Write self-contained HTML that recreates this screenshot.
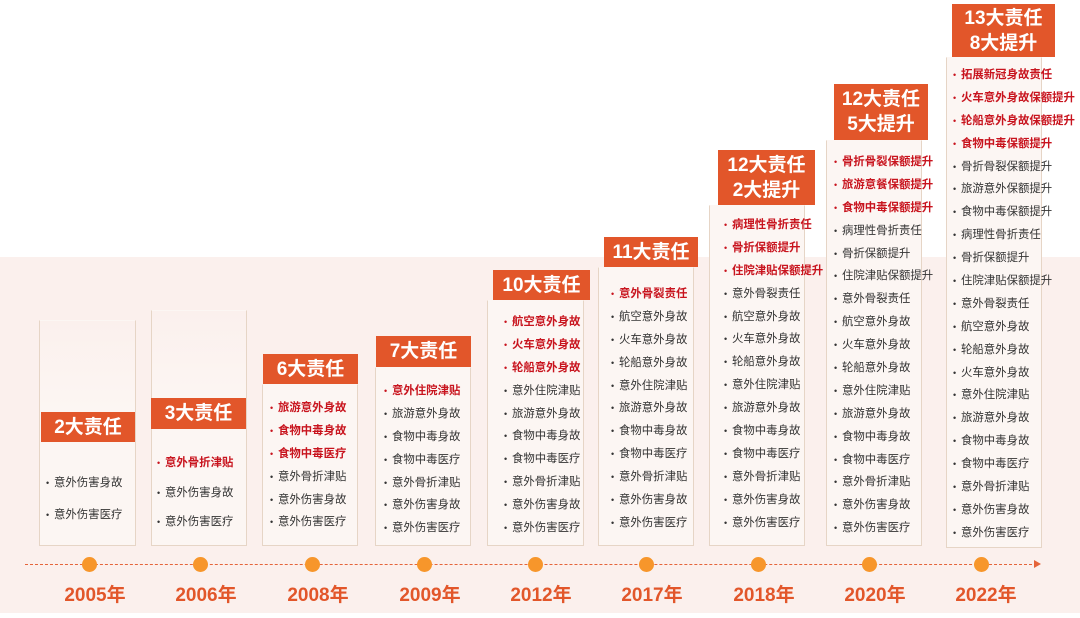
<!DOCTYPE html>
<html><head><meta charset="utf-8"><style>
*{margin:0;padding:0;box-sizing:border-box}
body{width:1080px;height:618px;position:relative;background:#fff;overflow:hidden;font-family:"Liberation Sans","Noto Sans CJK SC",sans-serif}
.band{position:absolute;left:0;top:257px;width:1080px;height:356px;background:#fbf0ed}
.box{position:absolute;border:1px solid #e6d5c6;border-top-color:transparent;background:#fcf6f3}
.hd{position:absolute;background:#e2562a;color:#fff;font-weight:bold;font-size:19px;text-align:center;line-height:25px;display:flex;flex-direction:column;justify-content:center}
.ls{position:absolute;font-size:11.4px;color:#333;white-space:nowrap}
.ls div{height:22.9px;line-height:16px}
.ls div:before{content:"•";display:inline-block;width:8px;font-size:9px;font-weight:normal}
.ls .r{color:#c8141e;font-weight:bold}
.line{position:absolute;left:25px;top:564px;width:1012px;border-top:1.5px dashed #e5643a}
.arr{position:absolute;left:1034px;top:560px;width:0;height:0;border-left:7px solid #e5643a;border-top:4px solid transparent;border-bottom:4px solid transparent}
.dot{position:absolute;top:557px;width:15px;height:15px;border-radius:50%;background:#f7962b}
.yr{position:absolute;top:580px;width:90px;text-align:center;font-size:19px;font-weight:bold;color:#e2562a}
</style></head><body>
<div class="band"></div>
<div class="box" style="left:39px;top:320px;width:97px;height:226px;background:linear-gradient(#fbf0ed,#fcf6f3 40%)"></div>
<div class="box" style="left:151px;top:310px;width:96px;height:236px;background:linear-gradient(#fbf0ed,#fcf6f3 40%)"></div>
<div class="box" style="left:262px;top:384px;width:96px;height:162px"></div>
<div class="box" style="left:375px;top:367px;width:96px;height:179px"></div>
<div class="box" style="left:487px;top:300px;width:97px;height:246px"></div>
<div class="box" style="left:598px;top:267px;width:96px;height:279px"></div>
<div class="box" style="left:709px;top:205px;width:96px;height:341px"></div>
<div class="box" style="left:826px;top:140px;width:96px;height:406px"></div>
<div class="box" style="left:946px;top:57px;width:96px;height:491px"></div>

<div class="hd" style="left:41px;top:412px;width:94px;height:30px">2大责任</div>
<div class="hd" style="left:151px;top:398px;width:95px;height:31px">3大责任</div>
<div class="hd" style="left:263px;top:354px;width:95px;height:30px">6大责任</div>
<div class="hd" style="left:376px;top:336px;width:95px;height:31px">7大责任</div>
<div class="hd" style="left:493px;top:270px;width:97px;height:30px">10大责任</div>
<div class="hd" style="left:604px;top:237px;width:94px;height:30px">11大责任</div>
<div class="hd" style="left:718px;top:150px;width:97px;height:55px"><span>12大责任</span><span>2大提升</span></div>
<div class="hd" style="left:834px;top:84px;width:94px;height:56px"><span>12大责任</span><span>5大提升</span></div>
<div class="hd" style="left:952px;top:4px;width:103px;height:53px"><span>13大责任</span><span>8大提升</span></div>

<div class="ls" style="left:46px;top:475px;"><div style="height:32px">意外伤害身故</div><div>意外伤害医疗</div></div>
<div class="ls" style="left:157px;top:455px"><div class="r" style="height:30px">意外骨折津贴</div><div style="height:29px">意外伤害身故</div><div>意外伤害医疗</div></div>
<div class="ls" style="left:270px;top:400px"><div class="r">旅游意外身故</div><div class="r">食物中毒身故</div><div class="r">食物中毒医疗</div><div>意外骨折津贴</div><div>意外伤害身故</div><div>意外伤害医疗</div></div>
<div class="ls" style="left:384px;top:383px"><div class="r">意外住院津贴</div><div>旅游意外身故</div><div>食物中毒身故</div><div>食物中毒医疗</div><div>意外骨折津贴</div><div>意外伤害身故</div><div>意外伤害医疗</div></div>
<div class="ls" style="left:504px;top:314px"><div class="r">航空意外身故</div><div class="r">火车意外身故</div><div class="r">轮船意外身故</div><div>意外住院津贴</div><div>旅游意外身故</div><div>食物中毒身故</div><div>食物中毒医疗</div><div>意外骨折津贴</div><div>意外伤害身故</div><div>意外伤害医疗</div></div>
<div class="ls" style="left:611px;top:286px"><div class="r">意外骨裂责任</div><div>航空意外身故</div><div>火车意外身故</div><div>轮船意外身故</div><div>意外住院津贴</div><div>旅游意外身故</div><div>食物中毒身故</div><div>食物中毒医疗</div><div>意外骨折津贴</div><div>意外伤害身故</div><div>意外伤害医疗</div></div>
<div class="ls" style="left:724px;top:217px"><div class="r">病理性骨折责任</div><div class="r">骨折保额提升</div><div class="r">住院津贴保额提升</div><div>意外骨裂责任</div><div>航空意外身故</div><div>火车意外身故</div><div>轮船意外身故</div><div>意外住院津贴</div><div>旅游意外身故</div><div>食物中毒身故</div><div>食物中毒医疗</div><div>意外骨折津贴</div><div>意外伤害身故</div><div>意外伤害医疗</div></div>
<div class="ls" style="left:834px;top:154px"><div class="r">骨折骨裂保额提升</div><div class="r">旅游意餐保额提升</div><div class="r">食物中毒保额提升</div><div>病理性骨折责任</div><div>骨折保额提升</div><div>住院津贴保额提升</div><div>意外骨裂责任</div><div>航空意外身故</div><div>火车意外身故</div><div>轮船意外身故</div><div>意外住院津贴</div><div>旅游意外身故</div><div>食物中毒身故</div><div>食物中毒医疗</div><div>意外骨折津贴</div><div>意外伤害身故</div><div>意外伤害医疗</div></div>
<div class="ls" style="left:953px;top:67px"><div class="r">拓展新冠身故责任</div><div class="r">火车意外身故保额提升</div><div class="r">轮船意外身故保额提升</div><div class="r">食物中毒保额提升</div><div>骨折骨裂保额提升</div><div>旅游意外保额提升</div><div>食物中毒保额提升</div><div>病理性骨折责任</div><div>骨折保额提升</div><div>住院津贴保额提升</div><div>意外骨裂责任</div><div>航空意外身故</div><div>轮船意外身故</div><div>火车意外身故</div><div>意外住院津贴</div><div>旅游意外身故</div><div>食物中毒身故</div><div>食物中毒医疗</div><div>意外骨折津贴</div><div>意外伤害身故</div><div>意外伤害医疗</div></div>

<div class="line"></div><div class="arr"></div>
<div class="dot" style="left:82px"></div><div class="dot" style="left:193px"></div><div class="dot" style="left:305px"></div><div class="dot" style="left:417px"></div><div class="dot" style="left:528px"></div><div class="dot" style="left:639px"></div><div class="dot" style="left:751px"></div><div class="dot" style="left:862px"></div><div class="dot" style="left:974px"></div>
<div class="yr" style="left:50px">2005年</div><div class="yr" style="left:161px">2006年</div><div class="yr" style="left:273px">2008年</div><div class="yr" style="left:385px">2009年</div><div class="yr" style="left:496px">2012年</div><div class="yr" style="left:607px">2017年</div><div class="yr" style="left:719px">2018年</div><div class="yr" style="left:830px">2020年</div><div class="yr" style="left:941px">2022年</div>
</body></html>
